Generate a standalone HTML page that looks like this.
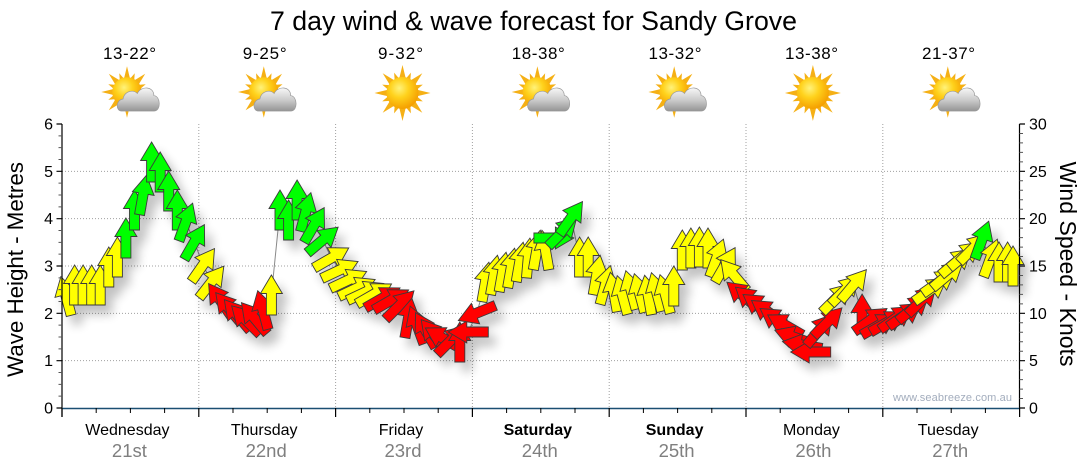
<!DOCTYPE html>
<html><head><meta charset="utf-8"><style>
html,body{margin:0;padding:0;background:#fff}
svg{display:block;font-family:"Liberation Sans",Arial,sans-serif}
.y{fill:#ffff00}.g{fill:#00ff00}.r{fill:#ff0000}
</style></head><body>
<svg width="1080" height="475" viewBox="0 0 1080 475" xmlns="http://www.w3.org/2000/svg">
<defs>
<path id="a" d="M-5,20L-5,-1.5L-11,-1.5L0,-20L11,-1.5L5,-1.5L5,20Z" stroke="#3a3a3a" stroke-width="0.9" stroke-linejoin="miter"/>
<filter id="sh" filterUnits="userSpaceOnUse" x="30" y="100" width="1020" height="320">
<feGaussianBlur in="SourceAlpha" stdDeviation="5"/>
<feOffset dx="7" dy="9" result="b"/>
<feComponentTransfer in="b" result="c"><feFuncA type="linear" slope="0.24"/></feComponentTransfer>
<feMerge><feMergeNode in="c"/><feMergeNode in="SourceGraphic"/></feMerge>
</filter>
<radialGradient id="sg" cx="40%" cy="35%" r="65%">
<stop offset="0" stop-color="#fff27a"/><stop offset="0.45" stop-color="#ffd21c"/><stop offset="1" stop-color="#f5a000"/>
</radialGradient>
<linearGradient id="cg" gradientUnits="userSpaceOnUse" x1="0" y1="-11" x2="0" y2="12">
<stop offset="0" stop-color="#fbfbfb"/><stop offset="0.55" stop-color="#c8c8c8"/><stop offset="1" stop-color="#8e8e8e"/>
</linearGradient>
<g id="sun">
<g fill="#f5b015">
<polygon points="-3.4,-14 0,-28 3.4,-14"/>
<polygon points="-3.4,-14 0,-28 3.4,-14" transform="rotate(45)"/>
<polygon points="-3.4,-14 0,-28 3.4,-14" transform="rotate(90)"/>
<polygon points="-3.4,-14 0,-28 3.4,-14" transform="rotate(135)"/>
<polygon points="-3.4,-14 0,-28 3.4,-14" transform="rotate(180)"/>
<polygon points="-3.4,-14 0,-28 3.4,-14" transform="rotate(225)"/>
<polygon points="-3.4,-14 0,-28 3.4,-14" transform="rotate(270)"/>
<polygon points="-3.4,-14 0,-28 3.4,-14" transform="rotate(315)"/>
<polygon points="-2.6,-14 0,-22 2.6,-14" transform="rotate(22.5)"/>
<polygon points="-2.6,-14 0,-22 2.6,-14" transform="rotate(67.5)"/>
<polygon points="-2.6,-14 0,-22 2.6,-14" transform="rotate(112.5)"/>
<polygon points="-2.6,-14 0,-22 2.6,-14" transform="rotate(157.5)"/>
<polygon points="-2.6,-14 0,-22 2.6,-14" transform="rotate(202.5)"/>
<polygon points="-2.6,-14 0,-22 2.6,-14" transform="rotate(247.5)"/>
<polygon points="-2.6,-14 0,-22 2.6,-14" transform="rotate(292.5)"/>
<polygon points="-2.6,-14 0,-22 2.6,-14" transform="rotate(337.5)"/>
</g>
<circle r="16" fill="url(#sg)"/>
</g>
<path id="cloud" d="M-15,11C-21,11 -21,1 -14,0C-13,-7 -5,-9 -1,-5C2,-12 14,-12 14,-3C20,-3 21,11 14,11Z" fill="url(#cg)" stroke="#9a9a9a" stroke-width="0.6"/>
</defs>

<!-- Title -->
<text x="533.5" y="30" font-size="26.7" text-anchor="middle" textLength="527" fill="#000">7 day wind &amp; wave forecast for Sandy Grove</text>

<!-- Temps -->
<g font-size="17" text-anchor="middle" fill="#000">
<text x="129.5" y="59" textLength="53">13-22°</text>
<text x="264.7" y="59" textLength="44">9-25°</text>
<text x="400.5" y="59" textLength="45">9-32°</text>
<text x="538.3" y="59" textLength="53">18-38°</text>
<text x="675" y="59" textLength="53">13-32°</text>
<text x="811.5" y="59" textLength="53">13-38°</text>
<text x="948.5" y="59" textLength="53">21-37°</text>
</g>

<!-- Icons -->
<use href="#sun" transform="translate(127,92) scale(0.92)"/><use href="#cloud" transform="translate(138.5,99) scale(1.1)"/>
<use href="#sun" transform="translate(263.8,92) scale(0.92)"/><use href="#cloud" transform="translate(275.3,99) scale(1.1)"/>
<use href="#sun" transform="translate(402.5,93)"/>
<use href="#sun" transform="translate(537.4,92) scale(0.92)"/><use href="#cloud" transform="translate(548.9,99) scale(1.1)"/>
<use href="#sun" transform="translate(674.2,92) scale(0.92)"/><use href="#cloud" transform="translate(685.7,99) scale(1.1)"/>
<use href="#sun" transform="translate(812.9,93)"/>
<use href="#sun" transform="translate(947.8,92) scale(0.92)"/><use href="#cloud" transform="translate(959.3,99) scale(1.1)"/>

<!-- Grid -->
<g stroke="#a0a0a0" stroke-width="1" stroke-dasharray="1 2" fill="none">
<path d="M62,360.67H1019M62,313.33H1019M62,266H1019M62,218.67H1019M62,171.33H1019"/>
<path d="M198.8,124V408M335.6,124V408M472.4,124V408M609.2,124V408M746,124V408M882.8,124V408"/>
</g>

<!-- Watermark -->
<text x="1012" y="401" font-size="11" text-anchor="end" fill="#a3adbd" textLength="119">www.seabreeze.com.au</text>

<!-- Wind line -->
<polyline fill="none" stroke="#8a8a8a" stroke-width="1" points="66,296 74.6,285 83.1,285 91.7,285 100.2,285 108.8,267 117.4,257 125.9,238 134.5,210 143,195 151.6,162 160.2,172 168.7,191 177.3,210 185.8,222 194.4,242 203,265 211.5,282 220.1,300 228.6,308 237.2,315 245.8,320 254.3,318 262.9,310 271.4,295 280,210 288.6,220 297.1,200 305.7,212 314.2,225 322.8,240 331.4,258 339.9,270 348.5,280 357,288 365.6,292 374.2,294 382.7,298 391.3,300 399.8,305 408.4,318 417,325 425.5,330 434.1,335 442.6,338 451.2,340 459.8,342 468.3,332 476.9,313 485.4,282 494,275 502.6,272 511.1,268 519.7,262 528.2,258 536.8,250 545.4,250 553.9,238 562.5,232 571,218 579.6,257 588.2,257 596.7,275 605.3,285 613.8,292 622.4,295 631,290 639.5,293 648.1,295 656.6,292 665.2,294 673.8,286 682.3,250 690.9,248 699.4,247 708,248 716.6,258 725.1,265 733.7,275 742.2,295 750.8,300 759.4,306 767.9,312 776.5,320 785,325 793.6,337 802.2,345 810.7,352 819.3,330 827.8,322 836.4,298 845,290 853.5,285 862.1,314 870.6,320 879.2,325 887.8,322 896.3,318 904.9,315 913.4,308 922,300 930.6,290 939.1,282 947.7,275 956.2,262 964.8,255 973.4,248 981.9,240 990.5,258 999,262 1007.6,262 1013,266"/>

<!-- Arrows -->
<g filter="url(#sh)">
<use href="#a" class="y" transform="translate(66,296) rotate(-15)"/>
<use href="#a" class="y" transform="translate(74.6,285)"/>
<use href="#a" class="y" transform="translate(83.1,285)"/>
<use href="#a" class="y" transform="translate(91.7,285)"/>
<use href="#a" class="y" transform="translate(100.2,285)"/>
<use href="#a" class="y" transform="translate(108.8,267)"/>
<use href="#a" class="y" transform="translate(117.4,257)"/>
<use href="#a" class="g" transform="translate(125.9,238)"/>
<use href="#a" class="g" transform="translate(134.5,210)"/>
<use href="#a" class="g" transform="translate(143,195) rotate(10)"/>
<use href="#a" class="g" transform="translate(151.6,162)"/>
<use href="#a" class="g" transform="translate(160.2,172)"/>
<use href="#a" class="g" transform="translate(168.7,191)"/>
<use href="#a" class="g" transform="translate(177.3,210)"/>
<use href="#a" class="g" transform="translate(185.8,222) rotate(20)"/>
<use href="#a" class="g" transform="translate(194.4,242) rotate(30)"/>
<use href="#a" class="y" transform="translate(203,265) rotate(35)"/>
<use href="#a" class="y" transform="translate(211.5,282) rotate(38)"/>
<use href="#a" class="r" transform="translate(220.1,300) rotate(-35)"/>
<use href="#a" class="r" transform="translate(228.6,308) rotate(-40)"/>
<use href="#a" class="r" transform="translate(237.2,315) rotate(-40)"/>
<use href="#a" class="r" transform="translate(245.8,320) rotate(-45)"/>
<use href="#a" class="r" transform="translate(254.3,318) rotate(-40)"/>
<use href="#a" class="r" transform="translate(262.9,310) rotate(-15)"/>
<use href="#a" class="y" transform="translate(271.4,295)"/>
<use href="#a" class="g" transform="translate(280,210)"/>
<use href="#a" class="g" transform="translate(288.6,220)"/>
<use href="#a" class="g" transform="translate(297.1,200)"/>
<use href="#a" class="g" transform="translate(305.7,212) rotate(15)"/>
<use href="#a" class="g" transform="translate(314.2,225) rotate(30)"/>
<use href="#a" class="g" transform="translate(322.8,240) rotate(50)"/>
<use href="#a" class="y" transform="translate(331.4,258) rotate(60)"/>
<use href="#a" class="y" transform="translate(339.9,270) rotate(65)"/>
<use href="#a" class="y" transform="translate(348.5,280) rotate(65)"/>
<use href="#a" class="y" transform="translate(357,288) rotate(65)"/>
<use href="#a" class="y" transform="translate(365.6,292) rotate(65)"/>
<use href="#a" class="y" transform="translate(374.2,294) rotate(60)"/>
<use href="#a" class="r" transform="translate(382.7,298) rotate(60)"/>
<use href="#a" class="r" transform="translate(391.3,300) rotate(60)"/>
<use href="#a" class="r" transform="translate(399.8,305) rotate(45)"/>
<use href="#a" class="r" transform="translate(408.4,318) rotate(10)"/>
<use href="#a" class="r" transform="translate(417,325) rotate(-20)"/>
<use href="#a" class="r" transform="translate(425.5,330) rotate(-30)"/>
<use href="#a" class="r" transform="translate(434.1,335) rotate(-40)"/>
<use href="#a" class="r" transform="translate(442.6,338) rotate(-60)"/>
<use href="#a" class="r" transform="translate(451.2,340) rotate(45)"/>
<use href="#a" class="r" transform="translate(459.8,342)"/>
<use href="#a" class="r" transform="translate(468.3,332) rotate(-90)"/>
<use href="#a" class="r" transform="translate(476.9,313) rotate(-112)"/>
<use href="#a" class="y" transform="translate(485.4,282) rotate(10)"/>
<use href="#a" class="y" transform="translate(494,275) rotate(10)"/>
<use href="#a" class="y" transform="translate(502.6,272) rotate(10)"/>
<use href="#a" class="y" transform="translate(511.1,268) rotate(10)"/>
<use href="#a" class="y" transform="translate(519.7,262) rotate(10)"/>
<use href="#a" class="y" transform="translate(528.2,258) rotate(5)"/>
<use href="#a" class="y" transform="translate(536.8,250) rotate(10)"/>
<use href="#a" class="y" transform="translate(545.4,250) rotate(-10)"/>
<use href="#a" class="g" transform="translate(553.9,238) rotate(90)"/>
<use href="#a" class="g" transform="translate(562.5,232) rotate(45)"/>
<use href="#a" class="g" transform="translate(571,218) rotate(35)"/>
<use href="#a" class="y" transform="translate(579.6,257)"/>
<use href="#a" class="y" transform="translate(588.2,257)"/>
<use href="#a" class="y" transform="translate(596.7,275) rotate(10)"/>
<use href="#a" class="y" transform="translate(605.3,285) rotate(15)"/>
<use href="#a" class="y" transform="translate(613.8,292) rotate(-10)"/>
<use href="#a" class="y" transform="translate(622.4,295) rotate(-15)"/>
<use href="#a" class="y" transform="translate(631,290) rotate(-15)"/>
<use href="#a" class="y" transform="translate(639.5,293) rotate(-15)"/>
<use href="#a" class="y" transform="translate(648.1,295) rotate(-10)"/>
<use href="#a" class="y" transform="translate(656.6,292) rotate(-15)"/>
<use href="#a" class="y" transform="translate(665.2,294) rotate(-15)"/>
<use href="#a" class="y" transform="translate(673.8,286)"/>
<use href="#a" class="y" transform="translate(682.3,250)"/>
<use href="#a" class="y" transform="translate(690.9,248)"/>
<use href="#a" class="y" transform="translate(699.4,247)"/>
<use href="#a" class="y" transform="translate(708,248)"/>
<use href="#a" class="y" transform="translate(716.6,258) rotate(20)"/>
<use href="#a" class="y" transform="translate(725.1,265) rotate(30)"/>
<use href="#a" class="y" transform="translate(733.7,275) rotate(-40)"/>
<use href="#a" class="r" transform="translate(742.2,295) rotate(-50)"/>
<use href="#a" class="r" transform="translate(750.8,300) rotate(-50)"/>
<use href="#a" class="r" transform="translate(759.4,306) rotate(-55)"/>
<use href="#a" class="r" transform="translate(767.9,312) rotate(-55)"/>
<use href="#a" class="r" transform="translate(776.5,320) rotate(-55)"/>
<use href="#a" class="r" transform="translate(785,325) rotate(-60)"/>
<use href="#a" class="r" transform="translate(793.6,337) rotate(-70)"/>
<use href="#a" class="r" transform="translate(802.2,345) rotate(-80)"/>
<use href="#a" class="r" transform="translate(810.7,352) rotate(-90)"/>
<use href="#a" class="r" transform="translate(819.3,330) rotate(40)"/>
<use href="#a" class="r" transform="translate(827.8,322) rotate(45)"/>
<use href="#a" class="y" transform="translate(836.4,298) rotate(45)"/>
<use href="#a" class="y" transform="translate(845,290) rotate(45)"/>
<use href="#a" class="y" transform="translate(853.5,285) rotate(40)"/>
<use href="#a" class="r" transform="translate(862.1,314)"/>
<use href="#a" class="r" transform="translate(870.6,320) rotate(55)"/>
<use href="#a" class="r" transform="translate(879.2,325) rotate(60)"/>
<use href="#a" class="r" transform="translate(887.8,322) rotate(60)"/>
<use href="#a" class="r" transform="translate(896.3,318) rotate(55)"/>
<use href="#a" class="r" transform="translate(904.9,315) rotate(55)"/>
<use href="#a" class="r" transform="translate(913.4,308) rotate(50)"/>
<use href="#a" class="r" transform="translate(922,300) rotate(45)"/>
<use href="#a" class="y" transform="translate(930.6,290) rotate(55)"/>
<use href="#a" class="y" transform="translate(939.1,282) rotate(55)"/>
<use href="#a" class="y" transform="translate(947.7,275) rotate(50)"/>
<use href="#a" class="y" transform="translate(956.2,262) rotate(50)"/>
<use href="#a" class="y" transform="translate(964.8,255) rotate(50)"/>
<use href="#a" class="y" transform="translate(973.4,248) rotate(45)"/>
<use href="#a" class="g" transform="translate(981.9,240) rotate(20)"/>
<use href="#a" class="y" transform="translate(990.5,258) rotate(20)"/>
<use href="#a" class="y" transform="translate(999,262)"/>
<use href="#a" class="y" transform="translate(1007.6,262)"/>
<use href="#a" class="y" transform="translate(1013,266)"/>
</g>

<!-- Axes -->
<path d="M62,124V417" stroke="#000" stroke-width="1.2" fill="none"/>
<path d="M1019.5,124V408" stroke="#000" stroke-width="1.2" fill="none"/>
<path d="M62,408.5H1020" stroke="#1b4f72" stroke-width="1.5" fill="none"/>
<!-- left ticks -->
<path stroke="#000" stroke-width="1.2" fill="none" d="M56.5,408H62M56.5,360.67H62M56.5,313.33H62M56.5,266H62M56.5,218.67H62M56.5,171.33H62M56.5,124H62"/>
<path stroke="#555" stroke-width="1" fill="none" d="M58.5,396.17H62M58.5,384.33H62M58.5,372.5H62M58.5,348.83H62M58.5,337H62M58.5,325.17H62M58.5,301.5H62M58.5,289.67H62M58.5,277.83H62M58.5,254.17H62M58.5,242.33H62M58.5,230.5H62M58.5,206.83H62M58.5,195H62M58.5,183.17H62M58.5,159.5H62M58.5,147.67H62M58.5,135.83H62"/>
<!-- right ticks -->
<path stroke="#000" stroke-width="1.2" fill="none" d="M1019.5,408H1025M1019.5,360.67H1025M1019.5,313.33H1025M1019.5,266H1025M1019.5,218.67H1025M1019.5,171.33H1025M1019.5,124H1025"/>
<path stroke="#555" stroke-width="1" fill="none" d="M1019.5,398.53H1023M1019.5,389.07H1023M1019.5,379.6H1023M1019.5,370.13H1023M1019.5,351.2H1023M1019.5,341.73H1023M1019.5,332.27H1023M1019.5,322.8H1023M1019.5,303.87H1023M1019.5,294.4H1023M1019.5,284.93H1023M1019.5,275.47H1023M1019.5,256.53H1023M1019.5,247.07H1023M1019.5,237.6H1023M1019.5,228.13H1023M1019.5,209.2H1023M1019.5,199.73H1023M1019.5,190.27H1023M1019.5,180.8H1023M1019.5,161.87H1023M1019.5,152.4H1023M1019.5,142.93H1023M1019.5,133.47H1023"/>
<!-- bottom ticks -->
<path stroke="#000" stroke-width="1.2" fill="none" d="M62,408V417M198.8,408V417M335.6,408V417M472.4,408V417M609.2,408V417M746,408V417M882.8,408V417M1019.6,408V417"/>
<path stroke="#000" stroke-width="1" fill="none" d="M96.2,408V413M130.4,408V413M164.6,408V413M233,408V413M267.2,408V413M301.4,408V413M369.8,408V413M404,408V413M438.2,408V413M506.6,408V413M540.8,408V413M575,408V413M643.4,408V413M677.6,408V413M711.8,408V413M780.2,408V413M814.4,408V413M848.6,408V413M917,408V413M951.2,408V413M985.4,408V413"/>

<!-- Y labels -->
<g font-size="16" fill="#000" text-anchor="end">
<text x="53" y="413.5">0</text><text x="53" y="366.2">1</text><text x="53" y="318.8">2</text><text x="53" y="271.5">3</text><text x="53" y="224.2">4</text><text x="53" y="176.8">5</text><text x="53" y="129.5">6</text>
</g>
<g font-size="16" fill="#000" text-anchor="start">
<text x="1029" y="413.5">0</text><text x="1029" y="366.2">5</text><text x="1029" y="318.8">10</text><text x="1029" y="271.5">15</text><text x="1029" y="224.2">20</text><text x="1029" y="176.8">25</text><text x="1029" y="129.5">30</text>
</g>

<!-- Axis titles -->
<text transform="translate(23,269.5) rotate(-90)" font-size="22.5" text-anchor="middle" fill="#000" textLength="215">Wave Height - Metres</text>
<text transform="translate(1060,264) rotate(90)" font-size="23" text-anchor="middle" fill="#000" textLength="205">Wind Speed - Knots</text>

<!-- Day labels -->
<g font-size="16" fill="#000" text-anchor="middle">
<text x="127.4" y="435">Wednesday</text>
<text x="264.2" y="435">Thursday</text>
<text x="401" y="435">Friday</text>
<text x="537.8" y="435" font-weight="bold">Saturday</text>
<text x="674.6" y="435" font-weight="bold">Sunday</text>
<text x="811.4" y="435">Monday</text>
<text x="948.2" y="435">Tuesday</text>
</g>
<g font-size="18.5" fill="#7f7f7f" text-anchor="middle">
<text x="129.4" y="457">21st</text>
<text x="266.2" y="457">22nd</text>
<text x="403" y="457">23rd</text>
<text x="539.8" y="457">24th</text>
<text x="676.6" y="457">25th</text>
<text x="813.4" y="457">26th</text>
<text x="950.2" y="457">27th</text>
</g>
</svg>
</body></html>
